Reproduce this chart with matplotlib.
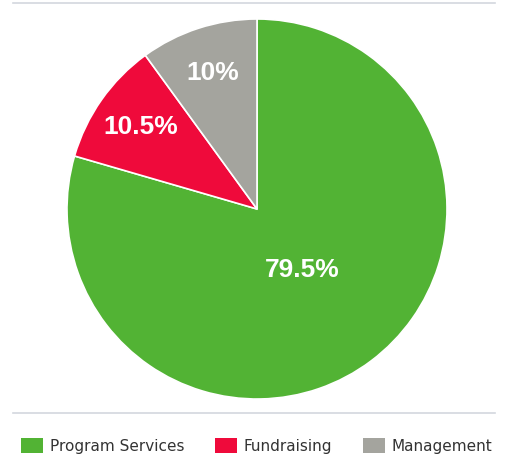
import numpy as np
import matplotlib
matplotlib.use("Agg")
import matplotlib.pyplot as plt
from matplotlib.lines import Line2D

plt.rcParams["font.family"] = ["Liberation Sans", "DejaVu Sans"]

# data
categories = ["Program Services", "Fundraising", "Management"]
shares = [79.5, 10.5, 10.0]
labels = ["79.5%", "10.5%", "10%"]
colors = ["#52b334", "#ef0a3b", "#a4a49e"]
label_dist = [0.4, 0.75, 0.75]

W, H = 505, 457
fig = plt.figure(figsize=(W / 100, H / 100), dpi=100)

cx, cy, r = 257, 209, 190
ax = fig.add_axes([(cx - r) / W, (H - cy - r) / H, 2 * r / W, 2 * r / H])
wedges, _ = ax.pie(shares, colors=colors, startangle=90, counterclock=False,
                   wedgeprops=dict(edgecolor="white", linewidth=1.2))
ax.set_xlim(-1, 1)
ax.set_ylim(-1, 1)
ax.set_aspect("auto")
ax.axis("off")

for w, lab, d in zip(wedges, labels, label_dist):
    ang = np.deg2rad((w.theta1 + w.theta2) / 2)
    ax.text(d * np.cos(ang), d * np.sin(ang), lab, ha="center", va="center",
            color="white", fontsize=19, fontweight="bold")

# separator lines
line_col = "#d3d7de"
for yp in (3, 413):
    fig.add_artist(Line2D([13 / W, 495 / W], [1 - yp / H, 1 - yp / H],
                          color=line_col, lw=1.2, transform=fig.transFigure))

handles = [plt.Rectangle((0, 0), 1, 1, facecolor=c, edgecolor="none") for c in colors]
fig.legend(handles, categories, loc="center", bbox_to_anchor=(0.5 + 4 / W, 1 - 446 / H),
           ncol=3, frameon=False, prop=dict(family=["DejaVu Sans"], size=11),
           handlelength=1.45, handleheight=1.1, handletextpad=0.45,
           columnspacing=2.0, labelcolor="#333333")

fig.savefig("out.png", dpi=100)
